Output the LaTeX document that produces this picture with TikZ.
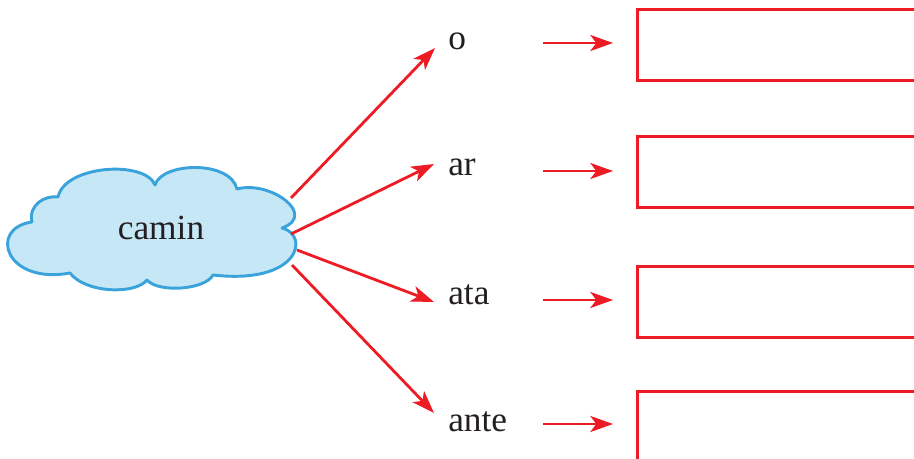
\documentclass[tikz,border=0pt]{standalone}
\usepackage{fontspec}
\setmainfont{Liberation Serif}
\usetikzlibrary{arrows.meta}
\definecolor{arrred}{HTML}{ED1C24}
\definecolor{cloudfill}{HTML}{C6E7F5}
\definecolor{cloudline}{HTML}{3AA3DC}
\definecolor{txt}{HTML}{231F20}
\begin{document}
\begin{tikzpicture}[x=0.75pt,y=0.75pt,
  arr/.style={draw=arrred,line width=2.1pt,-{Stealth[length=17pt,width=12pt,inset=4.5pt]}},
  box/.style={draw=arrred,line width=2.2pt},
  lbl/.style={anchor=base west,inner sep=0pt,text=txt,font=\fontsize{26.5}{30}\selectfont}]
\useasboundingbox (0,0) rectangle (914,-459);
\clip (0,0) rectangle (914,-459);
% cloud
\path[fill=cloudfill,draw=cloudline,line width=2.2pt,line join=round]
  (32,-222) .. controls (28,-205) and (45,-195) .. (58,-197)
  .. controls (65,-165) and (145,-160) .. (155,-185)
  .. controls (162,-162) and (230,-160) .. (237,-189)
  .. controls (270,-180) and (318,-215) .. (282,-228)
  .. controls (310,-235) and (300,-285) .. (213,-275)
  .. controls (205,-290) and (158,-293) .. (147,-280)
  .. controls (135,-295) and (85,-293) .. (70,-273)
  .. controls (5,-285) and (-12,-228) .. cycle;
\node[inner sep=0pt,anchor=base,text=txt,font=\fontsize{26.5}{30}\selectfont] (camin) at (161,-240) {camin};
% cloud exit points
\coordinate (c1) at (291,-198);
\coordinate (c2) at (291,-234);
\coordinate (c3) at (297,-250);
\coordinate (c4) at (292,-265);
% labels
\node[lbl] (o) at (448,-50) {o};
\node[lbl] (ar) at (448,-176) {ar};
\node[lbl] (ata) at (448,-305) {ata};
\node[lbl] (ante) at (448,-432) {ante};
% tips
\coordinate (t1) at (435,-48);
\coordinate (t2) at (434,-164);
\coordinate (t3) at (434,-302);
\coordinate (t4) at (434,-413);
\draw[arr] (c1) -- (t1);
\draw[arr] (c2) -- (t2);
\draw[arr] (c3) -- (t3);
\draw[arr] (c4) -- (t4);
% boxes
\node[box,anchor=north west,minimum width=320pt,minimum height=53pt,inner sep=0pt] (b1) at (636,-8) {};
\node[box,anchor=north west,minimum width=320pt,minimum height=53pt,inner sep=0pt] (b2) at (636,-135) {};
\node[box,anchor=north west,minimum width=320pt,minimum height=53pt,inner sep=0pt] (b3) at (636,-265) {};
\node[box,anchor=north west,minimum width=320pt,minimum height=53pt,inner sep=0pt] (b4) at (636,-390) {};
% horizontal arrows
\coordinate (h1) at (543,-43);
\coordinate (h2) at (543,-171);
\coordinate (h3) at (543,-300);
\coordinate (h4) at (543,-424);
\draw[arr] (h1) -- (613,-43) coordinate (e1);
\draw[arr] (h2) -- (613,-171) coordinate (e2);
\draw[arr] (h3) -- (613,-300) coordinate (e3);
\draw[arr] (h4) -- (613,-424) coordinate (e4);
\end{tikzpicture}
\end{document}
